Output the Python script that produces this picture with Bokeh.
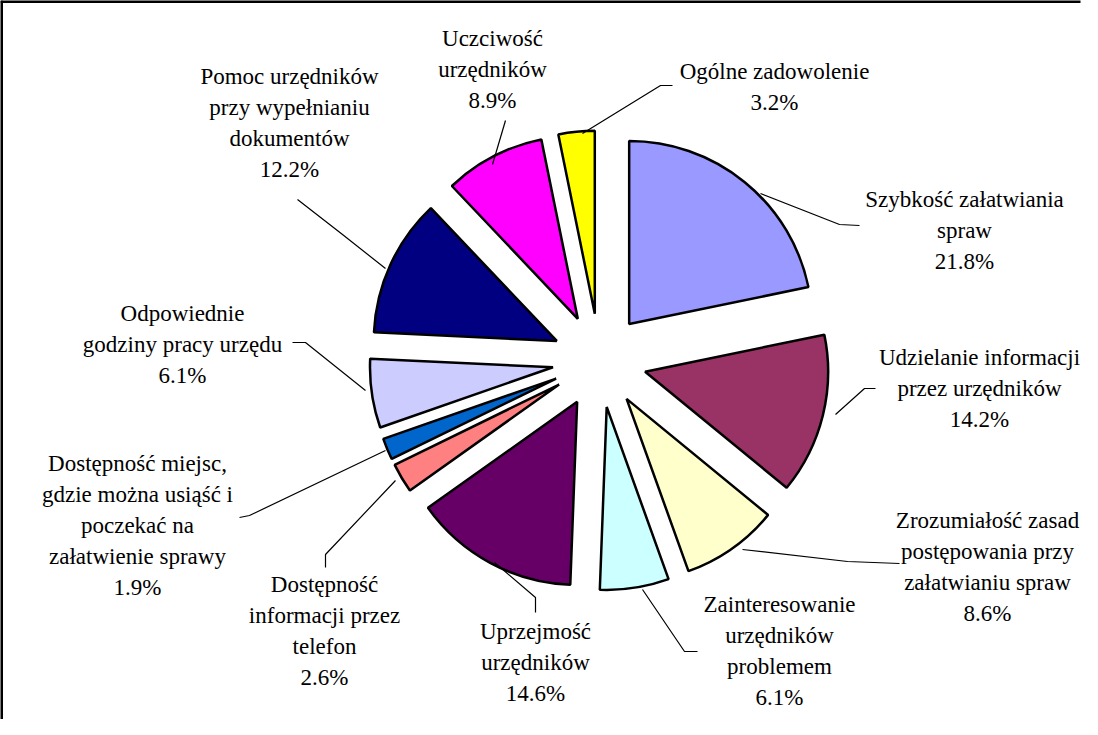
import numpy as np
from bokeh.plotting import figure
from bokeh.models import Range1d, ColumnDataSource, Label
from bokeh.embed import file_html
from bokeh.resources import INLINE

# ---- data (clockwise from 12 o'clock) ----
categories = [
    "Szybkość załatwiania\nspraw",
    "Udzielanie informacji\nprzez urzędników",
    "Zrozumiałość zasad\npostępowania przy\nzałatwianiu spraw",
    "Zainteresowanie\nurzędników\nproblemem",
    "Uprzejmość\nurzędników",
    "Dostępność\ninformacji przez\ntelefon",
    "Dostępność miejsc,\ngdzie można usiąść i\npoczekać na\nzałatwienie sprawy",
    "Odpowiednie\ngodziny pracy urzędu",
    "Pomoc urzędników\nprzy wypełnianiu\ndokumentów",
    "Uczciwość\nurzędników",
    "Ogólne zadowolenie",
]
values = [21.8, 14.2, 8.6, 6.1, 14.6, 2.6, 1.9, 6.1, 12.2, 8.9, 3.2]
colors = ["#9999FF", "#993366", "#FFFFCC", "#CCFFFF", "#660066", "#FF8080",
          "#0066CC", "#CCCCFF", "#000080", "#FF00FF", "#FFFF00"]

# ---- layout (screen px; data y = -screen y) ----
W, H = 1082, 719
CX, CY = 607, 368
R = 183
EXPLODE = 47

label_pos = [  # (center x, top y) in screen px
    (972, 194), (987, 352), (995, 515), (787, 599), (543, 626), (332, 579),
    (145, 458), (190, 308), (297, 71), (500, 33), (782, 66),
]
leaders = [
    [(867, 233), (847, 232), (768, 201)],
    [(883, 396), (872, 396), (843, 422)],
    [(907, 571), (855, 569), (750, 557)],
    [(705, 659), (692, 659), (650, 597)],
    [(543, 620), (543, 605), (502, 570)],
    [(333, 575), (333, 562), (403, 488)],
    [(247, 525), (257, 523), (393, 458)],
    [(300, 350), (313, 350), (373, 398)],
    [(305, 207), (350, 242), (393, 276)],
    [(513, 128), (500, 172)],
    [(680, 93), (668, 93), (603, 133), (590, 141)],
]

total = sum(values)
cum = np.concatenate([[0.0], np.cumsum(values)]) / total * 2 * np.pi
a_hi = np.pi / 2 - cum[:-1]
a_lo = np.pi / 2 - cum[1:]
mid = (a_hi + a_lo) / 2
wx = CX + EXPLODE * np.cos(mid)
wy = -CY + EXPLODE * np.sin(mid)

p = figure(width=W, height=H, output_backend="svg", toolbar_location=None,
           x_range=Range1d(8, 8 + W), y_range=Range1d(-(8 + H), -8),
           min_border=0, outline_line_color=None)
p.axis.visible = False
p.grid.visible = False
p.background_fill_color = "white"

src = ColumnDataSource(dict(x=wx, y=wy, start=a_lo, end=a_hi, color=colors))
p.wedge(x="x", y="y", radius=R, start_angle="start", end_angle="end",
        fill_color="color", line_color="black", line_width=2.5, source=src)

# leader lines
p.multi_line(xs=[[pt[0] for pt in l] for l in leaders],
             ys=[[-pt[1] for pt in l] for l in leaders],
             line_color="black", line_width=1.2)

# labels
for (lx, ly), c, v in zip(label_pos, categories, values):
    p.add_layout(Label(x=lx, y=-ly, text=f"{c}\n{v:.1f}%",
                       text_align="center", text_baseline="top",
                       text_font="serif", text_font_size="23px",
                       text_line_height=1.24, text_color="black"))

# frame lines (top and left)
p.segment(x0=[8, 9], y0=[-9, -8], x1=[8 + W - 2, 9], y1=[-9, -(8 + H)],
          line_color="black", line_width=3)

open("out.html", "w").write(file_html(p, INLINE))
